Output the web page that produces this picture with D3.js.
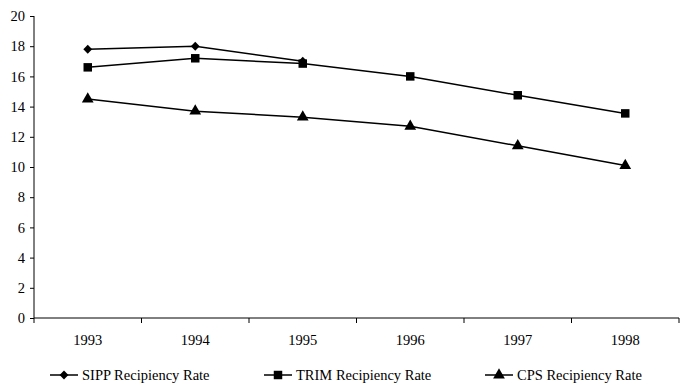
<!DOCTYPE html>
<html><head><meta charset="utf-8">
<script src="https://cdn.jsdelivr.net/npm/d3@7"></script>
<style>body{margin:0;background:#fff}svg{display:block}</style>
</head><body><svg id="c" width="691" height="391"></svg>
<script>
const years = ["1993","1994","1995","1996","1997","1998"];
const sipp = [17.8, 18.0, 17.0, null, null, null];
const trim = [16.6, 17.2, 16.85, 16.0, 14.75, 13.55];
const cps  = [14.5, 13.7, 13.3, 12.7, 11.4, 10.1];
const yTicks = [0,2,4,6,8,10,12,14,16,18,20];
const seriesNames = ["SIPP Recipiency Rate","TRIM Recipiency Rate","CPS Recipiency Rate"];

const FONT = "'Liberation Serif'";
const FS = "14.5px";
const svg = d3.select("#c");
const x = d3.scaleBand().domain(years).range([34, 679]);
const y = d3.scaleLinear().domain([0,20]).range([318, 16]);

const yAxis = svg.append("g").attr("transform","translate(34,0)")
  .call(d3.axisLeft(y).tickValues(yTicks).tickSize(4).tickPadding(5));
yAxis.attr("font-family", null).attr("font-size", null);
yAxis.select(".domain").attr("d","M0,16V318").attr("stroke","#000");
yAxis.selectAll("text").style("font-family",FONT).style("font-size",FS);

const xAxis = svg.append("g").attr("transform","translate(0,318)");
xAxis.append("line").attr("x1",34).attr("x2",679).attr("stroke","#000");
const bounds = years.map(d=>x(d)).concat([x.range()[1]]);
xAxis.selectAll("line.t").data(bounds).enter().append("line")
  .attr("x1",d=>d).attr("x2",d=>d).attr("y1",0).attr("y2",5).attr("stroke","#000");
xAxis.selectAll("text").data(years).enter().append("text")
  .attr("x",d=>x(d)+x.bandwidth()/2).attr("y",27).attr("text-anchor","middle")
  .style("font-family",FONT).style("font-size",FS).text(d=>d);

const cx = d => x(d)+x.bandwidth()/2;
const line = d3.line().defined(d=>d.v!=null).x(d=>cx(d.k)).y(d=>y(d.v));
const series = [sipp, trim, cps];
const symbols = [
  d3.symbol().type(d3.symbolDiamond2).size(50),
  d3.symbol().type(d3.symbolSquare).size(72),
  d3.symbol().type(d3.symbolTriangle).size(60)
];
series.forEach((s,i)=>{
  const data = years.map((k,j)=>({k, v:s[j]}));
  svg.append("path").datum(data).attr("d",line).attr("fill","none").attr("stroke","#000").attr("stroke-width",1.5);
  svg.selectAll(null).data(data.filter(d=>d.v!=null)).enter().append("path")
    .attr("d",symbols[i]).attr("transform",d=>`translate(${cx(d.k)},${y(d.v)})`).attr("fill","#000");
});

const legX = [50, 264, 485];
seriesNames.forEach((n,i)=>{
  const g = svg.append("g").attr("transform",`translate(${legX[i]},375)`);
  g.append("line").attr("x1",0).attr("x2",28).attr("stroke","#000").attr("stroke-width",1.5);
  g.append("path").attr("d",symbols[i]).attr("transform","translate(14,0)").attr("fill","#000");
  g.append("text").attr("x",32).attr("y",5).style("font-family",FONT).style("font-size",FS).text(n);
});
</script></body></html>
